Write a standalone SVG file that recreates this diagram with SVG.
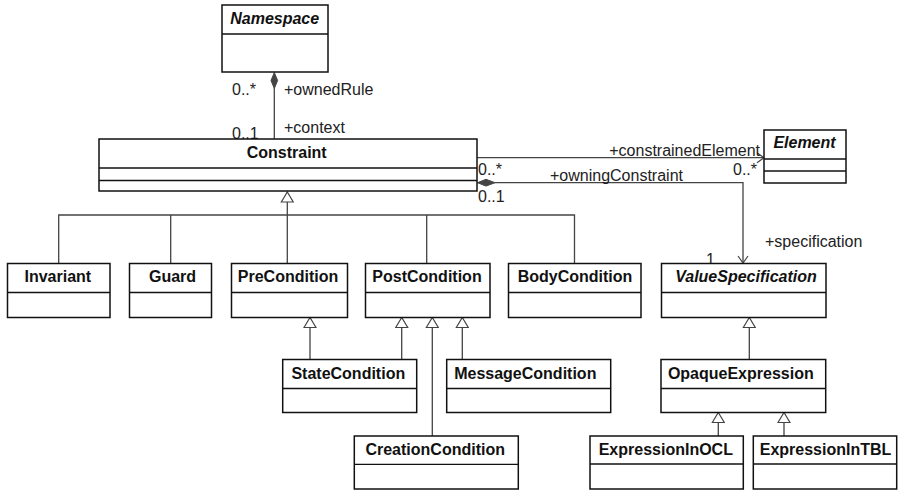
<svg xmlns="http://www.w3.org/2000/svg" width="901" height="491" viewBox="0 0 901 491">
  <style>
    .box { fill: #fff; stroke: #111; stroke-width: 1.5; }
    .div { stroke: #111; stroke-width: 1.3; }
    .name { font-family: "Liberation Sans", Arial, Helvetica, sans-serif; font-size: 16px; font-weight: bold; fill: #111; text-anchor: middle; }
    .abs { font-style: italic; }
    .lbl { font-family: "Liberation Sans", Arial, Helvetica, sans-serif; font-size: 16px; fill: #222; }
    .conn { fill: none; stroke: #444; stroke-width: 1.3; }
    .gen { marker-end: url(#gen); }
    .nav { marker-end: url(#open); }
  </style>
  <defs>
    <!-- hollow generalization triangle -->
    <marker id="gen" viewBox="-1 -1 12 14" refX="10" refY="6" markerWidth="12" markerHeight="14" orient="auto" markerUnits="userSpaceOnUse">
      <path d="M0,0 L10,6 L0,12 Z" fill="#fff" stroke="#444" stroke-width="1.2"/>
    </marker>
    <!-- open navigability arrow -->
    <marker id="open" viewBox="-1 -1 9 12" refX="7" refY="5" markerWidth="9" markerHeight="12" orient="auto" markerUnits="userSpaceOnUse">
      <path d="M0,0 L7,5 L0,10" fill="none" stroke="#444" stroke-width="1.2"/>
    </marker>
  </defs>

  <g id="connectors">
    <!-- Namespace owns rules -->
    <line class="conn" x1="274.3" y1="88" x2="274.3" y2="139"/>
    <polygon points="274.3,72.5 277.6,80.5 274.3,88.5 271,80.5" fill="#444" stroke="#444" stroke-width="1"/>
    <!-- constrainedElement -->
    <line class="conn nav" x1="477" y1="157.7" x2="764" y2="157.7"/>
    <!-- specification -->
    <path class="conn nav" d="M494,182.7 H743 V263"/>
    <polygon points="477.5,182.7 486,179.3 495,182.7 486,186.1" fill="#444" stroke="#444" stroke-width="1"/>
    <!-- Constraint subclasses -->
    <path class="conn" d="M58.7,263.5 V215 H574.5 V263.5 M170.7,215 V263.5 M426.7,215 V263.5"/>
    <line class="conn gen" x1="287.3" y1="263.5" x2="287.3" y2="192"/>
    <!-- PreCondition / PostCondition subclasses -->
    <line class="conn gen" x1="310" y1="359.5" x2="310" y2="317.5"/>
    <line class="conn gen" x1="401.7" y1="359.5" x2="401.7" y2="317.5"/>
    <line class="conn gen" x1="432.3" y1="436" x2="432.3" y2="317.5"/>
    <line class="conn gen" x1="462.3" y1="359.5" x2="462.3" y2="317.5"/>
    <!-- ValueSpecification hierarchy -->
    <line class="conn gen" x1="749.3" y1="359.5" x2="749.3" y2="317.5"/>
    <line class="conn gen" x1="718.3" y1="436" x2="718.3" y2="412.5"/>
    <line class="conn gen" x1="784" y1="436" x2="784" y2="412.5"/>
  </g>

  <g id="labels">
    <text class="lbl" x="232" y="95">0..*</text>
    <text class="lbl" x="284" y="95">+ownedRule</text>
    <text class="lbl" x="284" y="133">+context</text>
    <text class="lbl" x="232" y="138.5">0..1</text>
    <text class="lbl" x="760" y="156" text-anchor="end">+constrainedElement</text>
    <text class="lbl" x="733" y="175">0..*</text>
    <text class="lbl" x="478" y="175">0..*</text>
    <text class="lbl" x="550" y="181">+owningConstraint</text>
    <text class="lbl" x="478" y="202">0..1</text>
    <text class="lbl" x="765" y="247">+specification</text>
    <text class="lbl" x="706" y="265">1</text>
  </g>

  <g id="Namespace">
    <rect class="box" x="222" y="5" width="106" height="67"/>
    <line class="div" x1="222" y1="34" x2="328" y2="34"/>
    <text class="name abs" x="274.7" y="24">Namespace</text>
  </g>

  <g id="Constraint">
    <rect class="box" x="99" y="139" width="378" height="52"/>
    <line class="div" x1="99" y1="168" x2="477" y2="168"/>
    <line class="div" x1="99" y1="180.5" x2="477" y2="180.5"/>
    <text class="name" x="286.7" y="158">Constraint</text>
  </g>

  <g id="Element">
    <rect class="box" x="764" y="130" width="82" height="53"/>
    <line class="div" x1="764" y1="159" x2="846" y2="159"/>
    <line class="div" x1="764" y1="171" x2="846" y2="171"/>
    <text class="name abs" x="804.5" y="148">Element</text>
  </g>

  <g id="Invariant">
    <rect class="box" x="7.5" y="263.5" width="102.5" height="54"/>
    <line class="div" x1="7.5" y1="292.5" x2="110" y2="292.5"/>
    <text class="name" x="57.8" y="282">Invariant</text>
  </g>

  <g id="Guard">
    <rect class="box" x="129.5" y="263.5" width="82" height="54"/>
    <line class="div" x1="129.5" y1="292.5" x2="211.5" y2="292.5"/>
    <text class="name" x="172.5" y="282">Guard</text>
  </g>

  <g id="PreCondition">
    <rect class="box" x="231.5" y="263.5" width="116" height="54"/>
    <line class="div" x1="231.5" y1="292.5" x2="347.5" y2="292.5"/>
    <text class="name" x="288" y="282">PreCondition</text>
  </g>

  <g id="PostCondition">
    <rect class="box" x="365.5" y="263.5" width="124.5" height="54"/>
    <line class="div" x1="365.5" y1="292.5" x2="490" y2="292.5"/>
    <text class="name" x="427" y="282">PostCondition</text>
  </g>

  <g id="BodyCondition">
    <rect class="box" x="508.5" y="263.5" width="132.5" height="54"/>
    <line class="div" x1="508.5" y1="292.5" x2="641" y2="292.5"/>
    <text class="name" x="575" y="282">BodyCondition</text>
  </g>

  <g id="ValueSpecification">
    <rect class="box" x="661.5" y="263.5" width="164.5" height="54"/>
    <line class="div" x1="661.5" y1="292.5" x2="826" y2="292.5"/>
    <text class="name abs" x="746" y="282">ValueSpecification</text>
  </g>

  <g id="StateCondition">
    <rect class="box" x="282.7" y="359.5" width="134" height="53"/>
    <line class="div" x1="282.7" y1="388.5" x2="416.7" y2="388.5"/>
    <text class="name" x="348.3" y="378.5">StateCondition</text>
  </g>

  <g id="MessageCondition">
    <rect class="box" x="446.7" y="359.5" width="164" height="53"/>
    <line class="div" x1="446.7" y1="388.5" x2="610.7" y2="388.5"/>
    <text class="name" x="525.3" y="378.5">MessageCondition</text>
  </g>

  <g id="CreationCondition">
    <rect class="box" x="354.3" y="436" width="164" height="53"/>
    <line class="div" x1="354.3" y1="464.3" x2="518.3" y2="464.3"/>
    <text class="name" x="435.2" y="455">CreationCondition</text>
  </g>

  <g id="OpaqueExpression">
    <rect class="box" x="661" y="359.5" width="164.7" height="53"/>
    <line class="div" x1="661" y1="388.5" x2="825.7" y2="388.5"/>
    <text class="name" x="740.8" y="378.5">OpaqueExpression</text>
  </g>

  <g id="ExpressionInOCL">
    <rect class="box" x="590" y="436" width="153.3" height="53"/>
    <line class="div" x1="590" y1="464" x2="743.3" y2="464"/>
    <text class="name" x="665.8" y="455">ExpressionInOCL</text>
  </g>

  <g id="ExpressionInTBL">
    <rect class="box" x="753.3" y="436" width="143.4" height="53"/>
    <line class="div" x1="753.3" y1="464" x2="896.7" y2="464"/>
    <text class="name" x="825.5" y="455">ExpressionInTBL</text>
  </g>
</svg>
